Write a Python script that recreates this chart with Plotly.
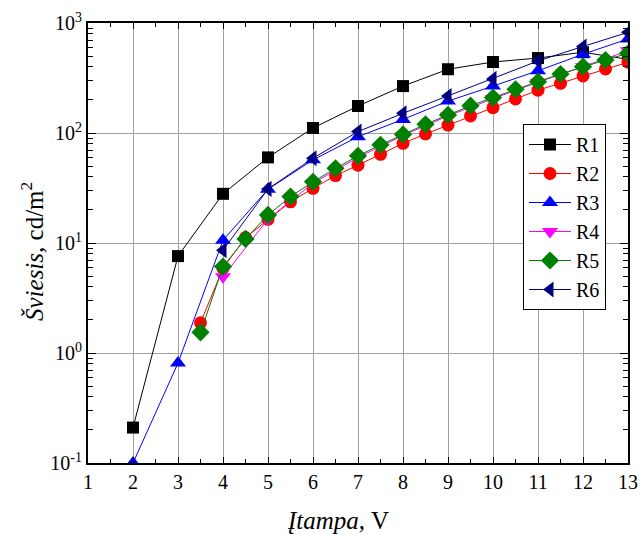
import plotly.graph_objects as go
import numpy as np

# ---- data ----
x_r1 = [2, 3, 4, 5, 6, 7, 8, 9, 10, 11, 12, 13]
r1 = [0.21, 7.6, 28, 60, 111, 176, 267, 380, 442, 480, 542, 468]

x_r2 = [3.5, 4, 4.5, 5, 5.5, 6, 6.5, 7, 7.5, 8, 8.5, 9, 9.5, 10, 10.5, 11, 11.5, 12, 12.5, 13]
r2 = [1.88, 5.9, 11.2, 16.4, 23.7, 31.4, 41, 51, 64, 80.5, 98, 118, 143, 170, 204, 245, 283, 330, 382, 440]

x_r3 = [2, 3, 4, 5, 6, 7, 8, 9, 10, 11, 12, 13]
r3 = [0.1, 0.81, 10.6, 30.8, 57, 92.5, 133, 195, 267, 368, 520, 716]

x_r4 = [4, 5, 6, 7, 8, 9, 10, 11, 12, 13]
r4 = [4.94, 16.5, 35, 60, 95, 143, 205, 290, 400, 560]

x_r5 = [3.5, 4, 4.5, 5, 5.5, 6, 6.5, 7, 7.5, 8, 8.5, 9, 9.5, 10, 10.5, 11, 11.5, 12, 12.5, 13]
r5 = [1.54, 6.1, 10.9, 18, 26.4, 36, 47.7, 62, 78, 97, 120, 146, 177, 210, 250, 293, 344, 401, 461, 530]

x_r6 = [4, 5, 6, 7, 8, 9, 10, 11, 12, 13]
r6 = [8.6, 31, 59, 103, 151, 217, 310, 452, 612, 822]

names = ["R1", "R2", "R3", "R4", "R5", "R6"]
colors = ["#000000", "#ff0000", "#0000ff", "#ff00ff", "#008000", "#000080"]
symbols = ["square", "circle", "triangle-up", "triangle-down", "diamond", "triangle-left"]
sizes = [12, 13, 14, 14, 14, 14]

x_ticks = list(range(1, 14))
y_ticks = [0.1, 1, 10, 100, 1000]
y_ticktext = ["10<sup>-1</sup>", "10<sup>0</sup>", "10<sup>1</sup>", "10<sup>2</sup>", "10<sup>3</sup>"]

FONT = "'Liberation Serif', 'Times New Roman', Tinos, 'DejaVu Serif', serif"

fig = go.Figure()
series = [(x_r1, r1), (x_r2, r2), (x_r3, r3), (x_r4, r4), (x_r5, r5), (x_r6, r6)]
for (xs, ys), n, c, s, sz in zip(series, names, colors, symbols, sizes):
    fig.add_trace(go.Scatter(
        x=xs, y=ys, name=n, mode="lines+markers",
        line=dict(color=c, width=1),
        marker=dict(symbol=s, color=c, size=sz, line=dict(width=0)),
    ))

minor_y = [m * 10 ** e for e in range(-1, 3) for m in range(2, 10)]
minor_x = [v + 0.5 for v in range(1, 13)]

fig.update_layout(
    width=642, height=535,
    margin=dict(l=88, r=14, t=23, b=72, autoexpand=False),
    paper_bgcolor="white", plot_bgcolor="white",
    font=dict(family=FONT, size=20, color="black"),
    showlegend=True,
    legend=dict(
        x=(523 - 88) / 540, y=1 - (124 - 23) / 440, xanchor="left", yanchor="top",
        bgcolor="white", bordercolor="black", borderwidth=1,
        font=dict(family=FONT, size=20, color="black"),
        itemwidth=42, tracegroupgap=0,
    ),
    xaxis=dict(
        range=[1, 13], tickmode="array", tickvals=x_ticks, automargin=False,
        showgrid=True, gridcolor="#a0a0a0", gridwidth=1,
        showline=True, linecolor="black", linewidth=2, mirror="allticks",
        ticks="inside", ticklen=6, tickcolor="black",
        minor=dict(tickmode="array", tickvals=minor_x, ticks="inside", ticklen=4,
                   tickcolor="black", showgrid=False),
        tickfont=dict(family=FONT, size=20), zeroline=False,
    ),
    yaxis=dict(
        type="log", range=[-1, 3], tickmode="array", tickvals=y_ticks, ticktext=y_ticktext,
        automargin=False,
        showgrid=True, gridcolor="#a0a0a0", gridwidth=1,
        showline=True, linecolor="black", linewidth=2, mirror="allticks",
        ticks="inside", ticklen=8, tickcolor="black",
        minor=dict(tickmode="array", tickvals=minor_y, ticks="inside", ticklen=5,
                   tickcolor="black", showgrid=False),
        tickfont=dict(family=FONT, size=20), zeroline=False,
    ),
)

fig.add_annotation(
    text="<i>Šviesis,</i> cd/m<sup>2</sup>", xref="paper", yref="paper",
    x=-(88 - 32) / 540, y=1 - (252 - 23) / 440, xanchor="center", yanchor="middle",
    textangle=-90, showarrow=False, font=dict(family=FONT, size=25, color="black"),
)
fig.add_annotation(
    text="<i>Įtampa,</i> V", xref="paper", yref="paper",
    x=(338 - 88) / 540, y=-(520 - 463) / 440, xanchor="center", yanchor="middle",
    showarrow=False, font=dict(family=FONT, size=25, color="black"),
)

fig.write_html("out.html")
